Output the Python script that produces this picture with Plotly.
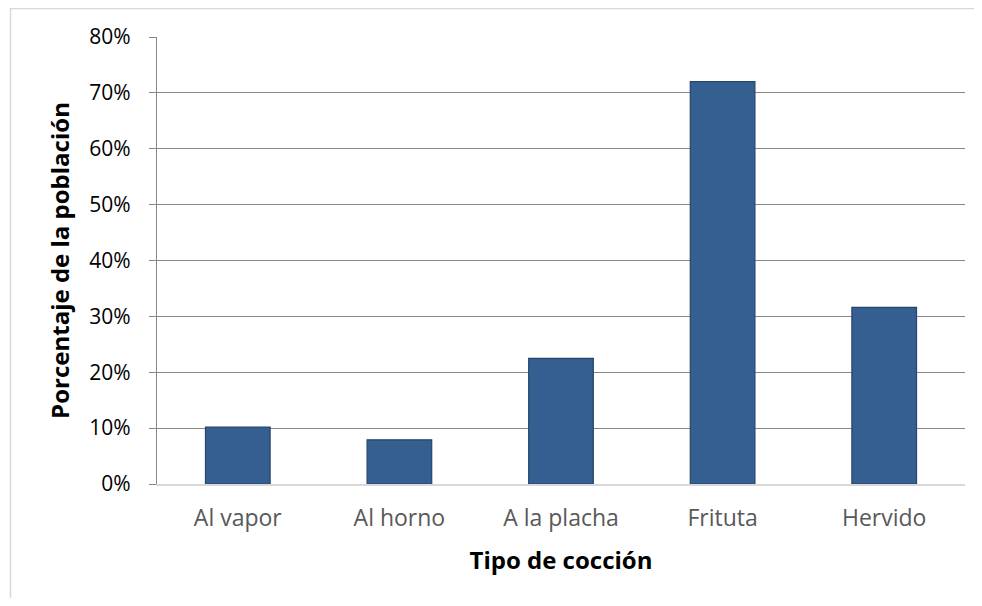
import plotly.graph_objects as go

categories = ["Al vapor", "Al horno", "A la placha", "Frituta", "Hervido"]
values = [0.102, 0.079, 0.225, 0.72, 0.316]
y_ticks = [0, 0.1, 0.2, 0.3, 0.4, 0.5, 0.6, 0.7, 0.8]
y_tick_labels = ["0%", "10%", "20%", "30%", "40%", "50%", "60%", "70%", "80%"]

# page has an 8px body margin; figure sized to fit the window without scrolling
OFF = 8
W, H = 966, 590
L, T = 157 - OFF, 37 - OFF
R = W - (965 - OFF)
B = H - (484 - OFF)
pw, ph = W - L - R, H - T - B

def px_x(x):
    return (x - OFF - L) / pw

def px_y(y):
    return (H - B - (y - OFF)) / ph

fig = go.Figure(go.Bar(
    x=categories, y=values,
    marker=dict(color="#365F91", line=dict(color="#26456B", width=1.2)),
    width=0.4,
))

font_family = "Open Sans, Liberation Sans, sans-serif"

fig.update_layout(
    width=W, height=H,
    margin=dict(l=L, r=R, t=T, b=B),
    paper_bgcolor="white", plot_bgcolor="white",
    showlegend=False,
    font=dict(family=font_family, size=22, color="#000000"),
    xaxis=dict(
        showgrid=False, showline=True, linecolor="#D9D9D9", linewidth=2,
        tickfont=dict(size=23, color="#595959"),
        ticks="outside", ticklen=12, tickcolor="rgba(0,0,0,0)",
        title=dict(text="<b>Tipo de cocción</b>", font=dict(size=24, color="#000000"), standoff=21),
    ),
    yaxis=dict(
        range=[0, 0.8], tickvals=y_ticks, ticktext=y_tick_labels,
        showgrid=True, gridcolor="#878787", gridwidth=1.3,
        showline=True, linecolor="#878787", linewidth=1.3,
        ticks="outside", ticklen=7, tickcolor="#878787", tickwidth=1.3,
        ticklabelstandoff=14,
        tickfont=dict(size=21, color="#000000"),
        zeroline=False,
        title=dict(text="<b>Porcentaje de la población</b>", font=dict(size=24, color="#000000"), standoff=12),
    ),
    shapes=[
        dict(type="line", xref="paper", yref="paper",
             x0=px_x(10), x1=px_x(1000), y0=px_y(8.5), y1=px_y(8.5),
             line=dict(color="#D9D9D9", width=1.5)),
        dict(type="line", xref="paper", yref="paper",
             x0=px_x(10.5), x1=px_x(10.5), y0=px_y(8), y1=px_y(620),
             line=dict(color="#D9D9D9", width=1.5)),
    ],
)

fig.write_html("out.html")
